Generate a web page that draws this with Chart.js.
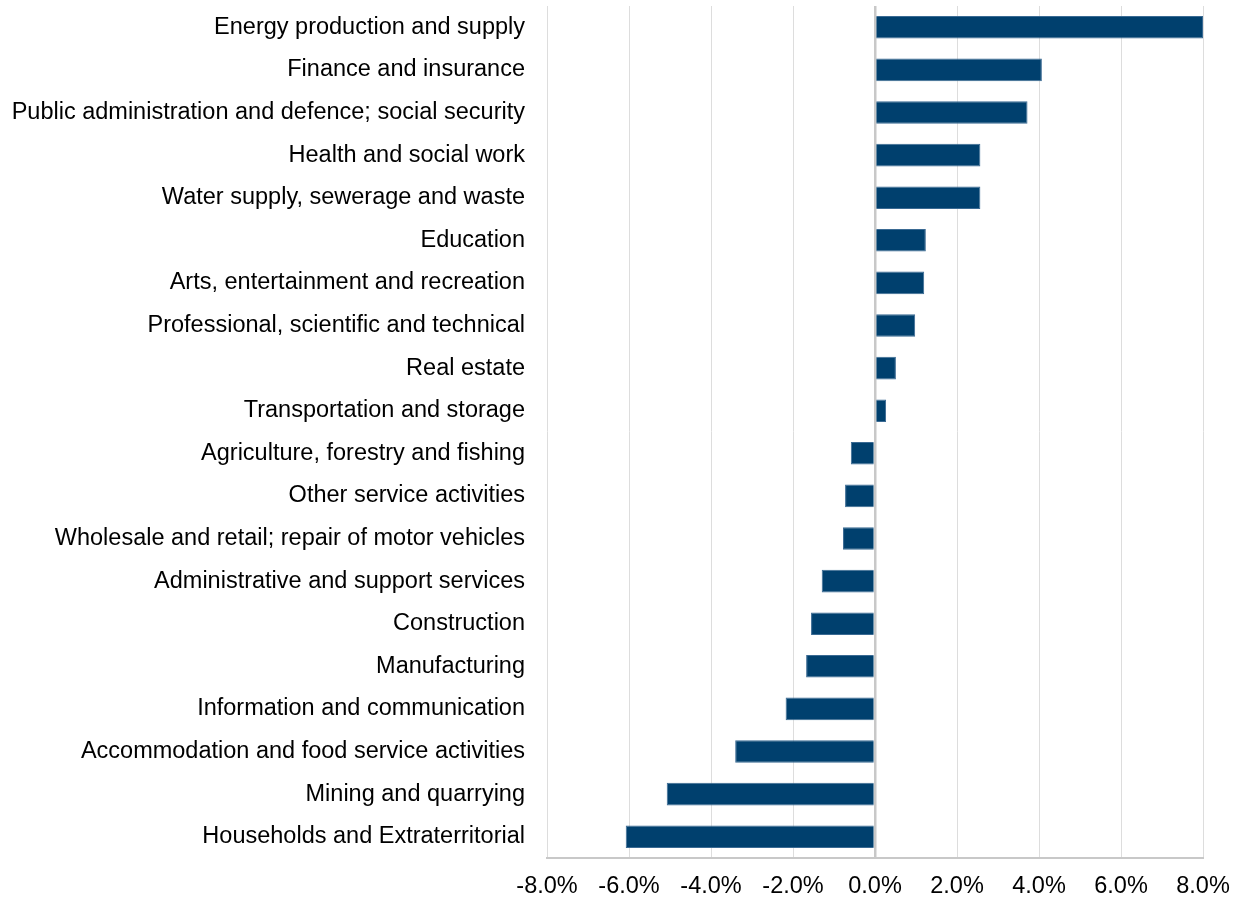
<!DOCTYPE html>
<html>
<head>
<meta charset="utf-8">
<script src="https://cdn.jsdelivr.net/npm/chart.js@4"></script>
<style>
  html, body { margin: 0; padding: 0; background: #fff; }
  #wrap { width: 1241px; height: 899px; }
</style>
</head>
<body>
<div id="wrap"><canvas id="myChart"></canvas></div>
<script>
// sectors, sorted as in the picture (top to bottom)
var sectors = [
    'Energy production and supply',
    'Finance and insurance',
    'Public administration and defence; social security',
    'Health and social work',
    'Water supply, sewerage and waste',
    'Education',
    'Arts, entertainment and recreation',
    'Professional, scientific and technical',
    'Real estate',
    'Transportation and storage',
    'Agriculture, forestry and fishing',
    'Other service activities',
    'Wholesale and retail; repair of motor vehicles',
    'Administrative and support services',
    'Construction',
    'Manufacturing',
    'Information and communication',
    'Accommodation and food service activities',
    'Mining and quarrying',
    'Households and Extraterritorial'
];

// change in percent
var change = [8.0, 4.07, 3.72, 2.57, 2.57, 1.24, 1.2, 0.98, 0.51, 0.27,
              -0.59, -0.73, -0.78, -1.3, -1.56, -1.68, -2.18, -3.41, -5.08, -6.08];

// x axis ticks
var x_min = -8;
var x_max = 8;
var x_step = 2;

var ctx = document.getElementById('myChart').getContext('2d');
var myChart = new Chart(ctx, {
    type: 'bar',
    data: {
        labels: sectors,
        datasets: [{
            label: 'Change',
            data: change,
            backgroundColor: '#00406E',
            borderColor: '#3A6A93',
            borderWidth: 1,
            categoryPercentage: 1,
            barPercentage: 0.53
        }]
    },
    options: {
        indexAxis: 'y',
        responsive: true,
        maintainAspectRatio: false,
        animation: false,
        layout: {
            padding: { top: 6, right: 38, bottom: 0, left: 0 }
        },
        plugins: {
            legend: { display: false },
            tooltip: { enabled: false }
        },
        scales: {
            x: {
                min: x_min,
                max: x_max,
                ticks: {
                    stepSize: x_step,
                    color: '#000',
                    padding: 14,
                    font: { family: 'Liberation Sans, Arial', size: 23.5 },
                    callback: function (v) { return v.toFixed(1) + '%'; }
                },
                grid: {
                    drawTicks: false,
                    color: function (c) { return c.tick && c.tick.value === 0 ? '#C8C8C8' : '#DDDDDD'; },
                    lineWidth: function (c) { return c.tick && c.tick.value === 0 ? 2.5 : 1; }
                },
                border: { color: '#C8C8C8', width: 2 },
                afterFit: function (scale) {
                    scale.height = 41;
                    scale.paddingLeft = 0;
                    scale.paddingRight = 0;
                }
            },
            y: {
                ticks: {
                    color: '#000',
                    padding: 22,
                    autoSkip: false,
                    font: { family: 'Liberation Sans, Arial', size: 23.5 }
                },
                grid: { display: false, drawTicks: false },
                border: { display: false },
                afterFit: function (scale) {
                    scale.width = 547;
                    scale.paddingTop = 0;
                    scale.paddingBottom = 0;
                }
            }
        }
    }
});
</script>
</body>
</html>
